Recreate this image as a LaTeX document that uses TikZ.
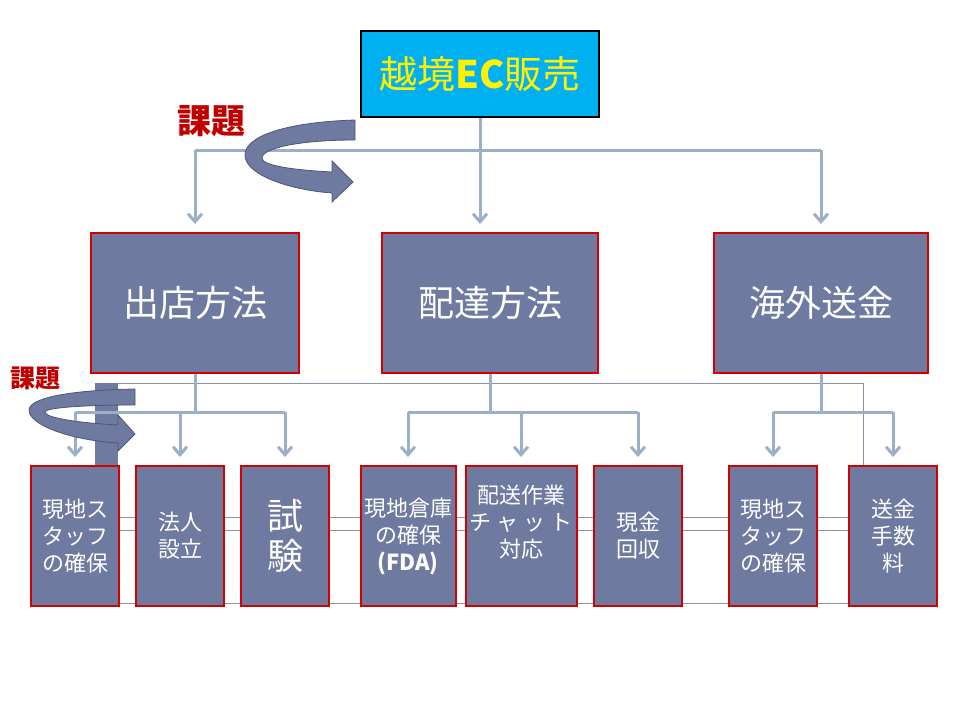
\documentclass[tikz,border=0pt]{standalone}
\usepackage{fontspec}
\usetikzlibrary{arrows.meta,positioning}
\newfontfamily\jpfont{Noto Sans CJK JP}
\definecolor{slate}{HTML}{6E7AA0}
\definecolor{slatedark}{HTML}{4B5678}
\definecolor{skyfill}{HTML}{00B0F0}
\definecolor{boxred}{HTML}{D40000}
\definecolor{linkblue}{HTML}{9AB0C6}
\definecolor{gridgray}{HTML}{8A93A6}
\definecolor{issuered}{HTML}{C00000}
\tikzset{
  topbox/.style={draw=black,line width=2pt,fill=skyfill,minimum width=238pt,minimum height=86pt,
    text=yellow,font=\jpfont\fontsize{38}{38}\selectfont},
  midbox/.style={draw=boxred,line width=2pt,fill=slate,minimum height=140pt,
    text=white,font=\jpfont\fontsize{36}{36}\selectfont},
  leafbox/.style={draw=boxred,line width=2pt,fill=slate,minimum width=88pt,minimum height=140pt,
    text=white,align=center,font=\jpfont\fontsize{22}{27}\selectfont},
  link/.style={draw=linkblue,line width=3pt,-{Straight Barb[length=8pt,width=14pt]},shorten >=8pt},
  bar/.style={draw=linkblue,line width=3pt},
  gridline/.style={draw=gridgray,line width=0.8pt},
  twist/.style={fill=slate,draw=slatedark,line width=0.8pt},
  issue/.style={text=issuered,font=\jpfont\bfseries\fontsize{#1}{#1}\selectfont}
}
\begin{document}
\begin{tikzpicture}[x=1pt,y=-1pt]
  \useasboundingbox (0,0) rectangle (960,720);
  % background lines
  \draw[gridline] (118,383) -- (863,383) -- (863,465);
  \draw[gridline] (30,517) -- (938,517);
  \draw[gridline] (30,530) -- (938,530);
  \draw[gridline] (30,603) -- (938,603);
  \fill[slate] (95,383) rectangle (118,465);
  % boxes
  \node[topbox] (ec) at (480,74) {越境{\bfseries EC}販売};
  \node[midbox,minimum width=208pt] (shop) at (195,303) {出店方法};
  \node[midbox,minimum width=216pt] (deliv) at (490,303) {配達方法};
  \node[midbox,minimum width=214pt] (remit) at (821,303) {海外送金};
  \node[leafbox] (staffA) at (75,536) {現地ス\\タッフ\\の確保};
  \node[leafbox] (corp) at (180,536) {法人\\設立};
  \node[leafbox,font=\jpfont\fontsize{36}{40}\selectfont] (test) at (285,536) {試\\験};
  \node[leafbox,minimum width=95pt] (store) at (408,536) {現地倉庫\\の確保\\{\bfseries (FDA)}};
  \node[leafbox,minimum width=111pt,text depth=30pt] (chat) at (521,536) {配送作業\\チ ャ ッ ト\\対応};
  \node[leafbox] (cash) at (638,536) {現金\\回収};
  \node[leafbox] (staffB) at (773,536) {現地ス\\タッフ\\の確保};
  \node[leafbox] (fee) at (893,536) {送金\\手数\\料};
  % top level
  \coordinate (hub) at (480,150);
  \draw[link] (ec.south) -- (ec.south |- deliv.north);
  \draw[bar] (hub -| shop.north) -- (hub -| remit.north);
  \foreach \n in {shop,remit} \draw[link] (hub -| \n.north) -- (\n.north);
  % second level
  \coordinate (hubB) at (0,412);
  \draw[bar] (shop.south) -- (shop.south |- hubB);
  \draw[bar] (hubB -| staffA.north) -- (hubB -| test.north);
  \foreach \n in {staffA,corp,test} \draw[link] (hubB -| \n.north) -- (\n.north);
  \draw[bar] (deliv.south) -- (deliv.south |- hubB);
  \draw[bar] (hubB -| store.north) -- (hubB -| cash.north);
  \foreach \n in {store,chat,cash} \draw[link] (hubB -| \n.north) -- (\n.north);
  \draw[bar] (remit.south) -- (remit.south |- hubB);
  \draw[bar] (hubB -| staffB.north) -- (hubB -| fee.north);
  \foreach \n in {staffB,fee} \draw[link] (hubB -| \n.north) -- (\n.north);
  % issue arrows
  \node[issue=34] (issueA) at (211,121) {課題};
  \draw[twist] (355,120) .. controls (290,122) and (245,135) .. (245,155)
    .. controls (245,175) and (290,190) .. (332,193) -- (332,202) -- (353,182) -- (332,161)
    -- (332,172) .. controls (295,170) and (262,166) .. (262,158)
    .. controls (262,148) and (300,140) .. (355,140) -- cycle;
  \node[issue=25] (issueB) at (35,378) {課題};
  \draw[twist] (135,389) .. controls (70,390) and (29,398) .. (29,410)
    .. controls (29,425) and (70,440) .. (118,443) -- (118,451) -- (135,434) -- (118,415)
    -- (118,425) .. controls (80,423) and (45,418) .. (45,412)
    .. controls (45,408) and (80,405) .. (135,405) -- cycle;
\end{tikzpicture}
\end{document}
